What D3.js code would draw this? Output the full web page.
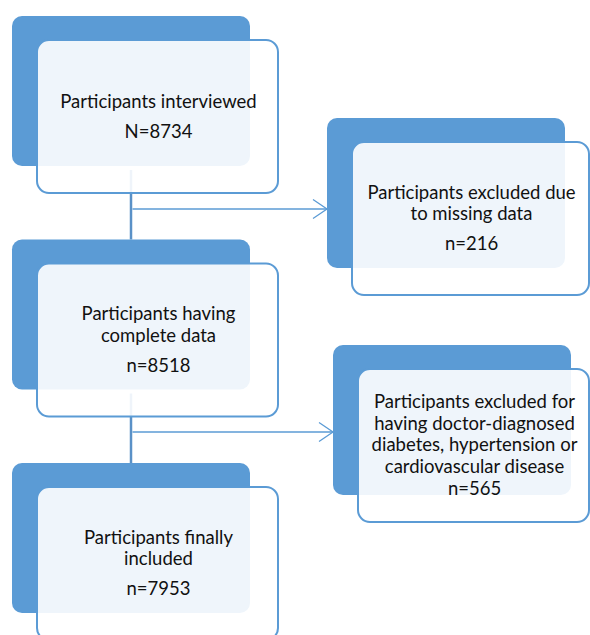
<!DOCTYPE html>
<html>
<head>
<meta charset="utf-8">
<script src="https://cdn.jsdelivr.net/npm/d3@7"></script>
<style>
  body { margin: 0; background: #fff; }
  svg { display: block; }
</style>
</head>
<body>
<script>
// flow steps (main column) and exclusions (right column)
var mainLabels = [
  ['Participants interviewed'],
  ['Participants having', 'complete data'],
  ['Participants finally', 'included']
];
var mainCounts = ['N=8734', 'n=8518', 'n=7953'];

var exclLabels = [
  ['Participants excluded due', 'to missing data'],
  ['Participants excluded for', 'having doctor-diagnosed', 'diabetes, hypertension or', 'cardiovascular disease']
];
var exclCounts = ['n=216', 'n=565'];

var width = 590,
    height = 635;

var blue = '#5b9bd5',
    lineBlue = '#5a91c7';

var svg = d3.select('body')
  .append('svg')
  .attr('width', width)
  .attr('height', height);

// vertical placement of the boxes
var yMain = d3.scaleLinear().domain([0, 2]).range([16, 463]);
var yExcl = d3.scaleLinear().domain([0, 1]).range([118, 345]);
var xExcl = d3.scaleLinear().domain([0, 1]).range([327, 333]);

var backW = 238, backH = 150,
    offX = 25, offY = 24,
    frontW = 241, frontH = 153;

var boxes = mainLabels.map(function(d, i) {
  return { lines: d, count: mainCounts[i], x: 12, y: yMain(i) };
}).concat(exclLabels.map(function(d, i) {
  return { lines: d, count: exclCounts[i], x: xExcl(i), y: yExcl(i) };
}));

// connectors first so the translucent boxes sit over them
var links = svg.append('g');
exclLabels.forEach(function(d, i) {
  var vx = 131;
  var top = yMain(i) + backH + 4,
      bottom = yMain(i + 1);
  links.append('line')
    .attr('x1', vx).attr('x2', vx)
    .attr('y1', top).attr('y2', bottom)
    .attr('stroke', lineBlue)
    .attr('stroke-width', 2.5);
  var ay = i === 0 ? 209 : 432;
  var tip = xExcl(i);
  links.append('line')
    .attr('x1', vx + 1.5).attr('x2', tip)
    .attr('y1', ay).attr('y2', ay)
    .attr('stroke', blue)
    .attr('stroke-width', 1.3);
  links.append('path')
    .attr('d', 'M' + (tip - 14) + ',' + (ay - 9.5) + 'L' + tip + ',' + ay + 'L' + (tip - 14) + ',' + (ay + 9.5))
    .attr('fill', 'none')
    .attr('stroke', blue)
    .attr('stroke-width', 1.3);
});

var g = svg.selectAll('g.box')
  .data(boxes)
  .enter().append('g')
  .attr('class', 'box');

g.append('rect')
  .attr('x', function(d) { return d.x; })
  .attr('y', function(d) { return d.y; })
  .attr('width', backW)
  .attr('height', backH)
  .attr('rx', 10)
  .attr('fill', blue);

g.append('rect')
  .attr('x', function(d) { return d.x + offX; })
  .attr('y', function(d) { return d.y + offY; })
  .attr('width', function(d) { return Math.min(frontW, width - 1 - d.x - offX); })
  .attr('height', frontH)
  .attr('rx', 12)
  .attr('fill', '#fff')
  .attr('fill-opacity', 0.9)
  .attr('stroke', blue)
  .attr('stroke-width', 2);

var lineH = 21.5;

g.each(function(d) {
  var cx = d.x + offX + Math.min(frontW, width - 1 - d.x - offX) / 2 + 1;
  var cy = d.y + offY + frontH / 2;
  var gap = d.lines.length > 2 ? 22 : 30;
  var span = (d.lines.length - 1) * lineH + gap;
  var first = cy - span / 2 + 6;
  var t = d3.select(this).append('text')
    .attr('text-anchor', 'middle')
    .attr('font-family', 'Lato, "Open Sans", sans-serif')
    .attr('font-size', 18.5)
    .attr('fill', '#111');
  d.lines.forEach(function(l, k) {
    t.append('tspan')
      .attr('x', cx)
      .attr('y', first + k * lineH)
      .text(l);
  });
  t.append('tspan')
    .attr('x', cx)
    .attr('y', first + (d.lines.length - 1) * lineH + gap)
    .text(d.count);
});
</script>
</body>
</html>
